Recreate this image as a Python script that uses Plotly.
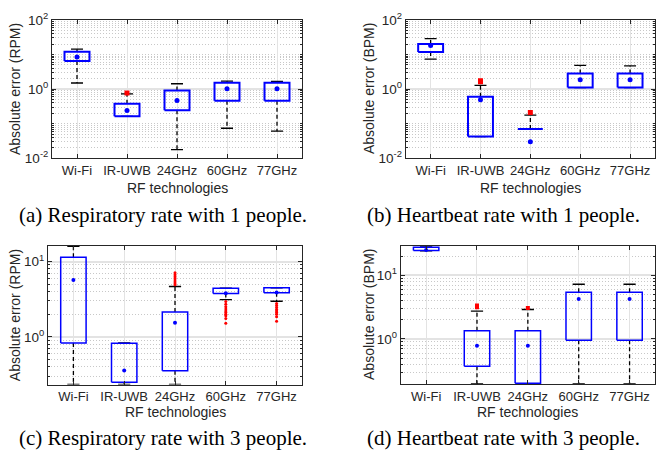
import plotly.graph_objects as go
import math

categories = ["Wi-Fi", "IR-UWB", "24GHz", "60GHz", "77GHz"]

# (a) Respiratory rate with 1 people (RPM)
a_lower = [1.5, 0.163, 0.0178, 0.074, 0.061]
a_q1 = [6.5, 0.163, 0.245, 0.46, 0.46]
a_median = [8.4, 0.24, 0.47, 1.02, 1.02]
a_q3 = [12.1, 0.38, 0.91, 1.53, 1.53]
a_upper = [14.3, 0.73, 1.43, 1.70, 1.66]
a_outliers = [[], [0.77], [], [], []]

# (b) Heartbeat rate with 1 people (BPM)
b_lower = [7.4, 0.0425, 0.0707, 1.107, 1.107]
b_q1 = [11.8, 0.0425, 0.0707, 1.107, 1.107]
b_median = [18.1, 0.49, 0.030, 1.85, 1.85]
b_q3 = [20.2, 0.60, 0.0707, 2.84, 2.84]
b_upper = [28.9, 1.29, 0.178, 4.82, 4.7]
b_outliers = [[], [1.62, 1.75], [0.21], [], []]

# (c) Respiratory rate with 3 people (RPM)
c_lower = [0.234, 0.234, 0.234, 3.12, 2.97]
c_q1 = [0.83, 0.249, 0.354, 3.76, 3.84]
c_median = [5.7, 0.357, 1.54, 3.8, 3.89]
c_q3 = [11.4, 0.82, 2.13, 4.43, 4.48]
c_upper = [15.9, 0.83, 4.66, 4.43, 4.48]
c_outliers = [[], [], [4.9, 5.2, 5.5, 5.9, 6.3, 6.7, 7.1],
              [2.94, 2.7, 2.5, 2.35, 2.2, 2.1, 2.0, 1.9, 1.75, 1.52],
              [2.77, 2.6, 2.45, 2.3, 2.2, 2.1, 2.0, 1.85, 1.61]]

# (d) Heartbeat rate with 3 people (BPM)
d_lower = [24.2, 0.197, 0.197, 0.197, 0.197]
d_q1 = [24.4, 0.373, 0.202, 0.953, 0.953]
d_median = [24.9, 0.78, 0.78, 4.24, 4.24]
d_q3 = [27.4, 1.35, 1.35, 5.41, 5.41]
d_upper = [28.6, 2.74, 2.9, 7.22, 7.22]
d_outliers = [[], [3.15, 3.35], [3.07], [], []]

y_titles = ["Absolute error (RPM)", "Absolute error (BPM)",
            "Absolute error (RPM)", "Absolute error (BPM)"]
captions = ["(a) Respiratory rate with 1 people.", "(b) Heartbeat rate with 1 people.",
            "(c) Respiratory rate with 3 people.", "(d) Heartbeat rate with 3 people."]
x_title = "RF technologies"

W, H = 666, 464
def px(x): return x / W
def py(y): return 1 - y / H

# panel pixel boxes: left, right, top, bottom
panels = [
    dict(l=52, r=302, t=10.3, b=154.3, yr=(0.01, 100), major=[0.01, 1, 100], lw=2.0, ms=5, oms=5, osym="square"),
    dict(l=405.7, r=655, t=10.3, b=154.3, yr=(0.01, 100), major=[0.01, 1, 100], lw=2.0, ms=5, oms=5, osym="square"),
    dict(l=48, r=302, t=245.3, b=389.7, yr=(0.232, 16.2), major=[1, 10], lw=1.5, ms=4, oms=3, osym="circle"),
    dict(l=400.7, r=655, t=245.3, b=389.3, yr=(0.195, 29.0), major=[1, 10], lw=1.5, ms=4, oms=4, osym="square"),
]
data = [
    (a_lower, a_q1, a_median, a_q3, a_upper, a_outliers),
    (b_lower, b_q1, b_median, b_q3, b_upper, b_outliers),
    (c_lower, c_q1, c_median, c_q3, c_upper, c_outliers),
    (d_lower, d_q1, d_median, d_q3, d_upper, d_outliers),
]

fig = go.Figure()
FONT = "Liberation Sans, Arial, sans-serif"
TXT = "#262626"
half_box = 0.25
half_cap = 0.12
positions = list(range(1, len(categories) + 1))

annotations = []
for k, (p, (lo, q1, med, q3, up, outl)) in enumerate(zip(panels, data)):
    n = "" if k == 0 else str(k + 1)
    xa, ya = "x" + n, "y" + n
    wx, wy = [], []
    cx, cy = [], []
    bx, by = [], []
    ox, oy = [], []
    for i, pos in enumerate(positions):
        wx += [pos, pos, None, pos, pos, None]
        wy += [q3[i], up[i], None, q1[i], lo[i], None]
        cx += [pos - half_cap, pos + half_cap, None, pos - half_cap, pos + half_cap, None]
        cy += [up[i], up[i], None, lo[i], lo[i], None]
        bx += [pos - half_box, pos + half_box, pos + half_box, pos - half_box, pos - half_box, None]
        by += [q1[i], q1[i], q3[i], q3[i], q1[i], None]
        for v in outl[i]:
            ox.append(pos); oy.append(v)
    fig.add_trace(go.Scatter(x=wx, y=wy, mode="lines", xaxis=xa, yaxis=ya,
                             line=dict(color="black", width=1.3, dash="4px,3px"),
                             showlegend=False, hoverinfo="skip"))
    fig.add_trace(go.Scatter(x=cx, y=cy, mode="lines", xaxis=xa, yaxis=ya,
                             line=dict(color="black", width=1.3),
                             showlegend=False, hoverinfo="skip"))
    fig.add_trace(go.Scatter(x=bx, y=by, mode="lines", xaxis=xa, yaxis=ya,
                             line=dict(color="#0000ff", width=p["lw"]),
                             showlegend=False, hoverinfo="skip"))
    fig.add_trace(go.Scatter(x=positions, y=med, mode="markers", xaxis=xa, yaxis=ya,
                             marker=dict(color="#0000ff", size=p["ms"]),
                             showlegend=False))
    fig.add_trace(go.Scatter(x=ox, y=oy, mode="markers", xaxis=xa, yaxis=ya,
                             marker=dict(color="#ff0000", size=p["oms"], symbol=p["osym"]),
                             showlegend=False))

    lo_e = math.floor(math.log10(p["yr"][0]))
    hi_e = math.ceil(math.log10(p["yr"][1]))
    minor_vals = [m * 10 ** e for e in range(lo_e, hi_e) for m in range(1, 10)
                  if p["yr"][0] < m * 10 ** e < p["yr"][1]]
    minor_vals = [v for v in minor_vals if all(abs(math.log10(v) - math.log10(mj)) > 1e-6 for mj in p["major"])]
    ticktext = ["10<sup>%d</sup>" % round(math.log10(v)) for v in p["major"]]

    xkey = "xaxis" + n
    ykey = "yaxis" + n
    fig.layout[xkey] = dict(
        domain=[px(p["l"]), px(p["r"])], anchor=ya, range=[0.5, 5.5],
        tickmode="array", tickvals=positions, ticktext=categories,
        ticks="inside", ticklen=4, tickcolor=TXT,
        showline=True, linecolor=TXT, linewidth=1, mirror="ticks",
        showgrid=True, gridcolor="#e3e3e3", gridwidth=1, zeroline=False,
        tickfont=dict(family=FONT, size=13, color=TXT),
    )
    fig.layout[ykey] = dict(
        domain=[py(p["b"]), py(p["t"])], anchor=xa, type="log",
        range=[math.log10(p["yr"][0]), math.log10(p["yr"][1])],
        tickmode="array", tickvals=p["major"], ticktext=ticktext,
        ticks="inside", ticklen=4, tickcolor=TXT,
        showline=True, linecolor=TXT, linewidth=1, mirror="ticks",
        showgrid=True, gridcolor="#e3e3e3", gridwidth=1.5, zeroline=False,
        tickfont=dict(family=FONT, size=13.5, color=TXT),
        minor=dict(tickmode="array", tickvals=minor_vals, ticks="inside", ticklen=2,
                   tickcolor=TXT, showgrid=True, gridcolor="#c8c8c8", griddash="1px,2px",
                   gridwidth=1),
    )
    ymid = (p["t"] + p["b"]) / 2
    xmid = (p["l"] + p["r"]) / 2
    ytx = 15 if k % 2 == 0 else 369
    annotations.append(dict(x=px(ytx), y=py(ymid), xref="paper", yref="paper",
                            text=y_titles[k], textangle=-90, showarrow=False,
                            xanchor="center", yanchor="middle",
                            font=dict(family=FONT, size=14, color=TXT)))
    xty = 185 if k < 2 else 418.5
    annotations.append(dict(x=px(xmid), y=py(xty), xref="paper", yref="paper",
                            text=x_title, showarrow=False, xanchor="center", yanchor="middle",
                            font=dict(family=FONT, size=14, color=TXT)))
    capx = 163 if k % 2 == 0 else 503
    capy = 213 if k < 2 else 445
    annotations.append(dict(x=px(capx), y=py(capy), xref="paper", yref="paper",
                            text=captions[k], showarrow=False, xanchor="center", yanchor="middle",
                            font=dict(family="Liberation Serif, Times New Roman, serif", size=21, color="black")))

fig.update_layout(
    width=W, height=H, margin=dict(l=0, r=0, t=0, b=0),
    paper_bgcolor="white", plot_bgcolor="white",
    annotations=annotations, showlegend=False,
)
fig.write_html("out.html", config={"displayModeBar": False},
               post_script="document.body.style.margin='0';document.body.style.overflow='hidden';")
